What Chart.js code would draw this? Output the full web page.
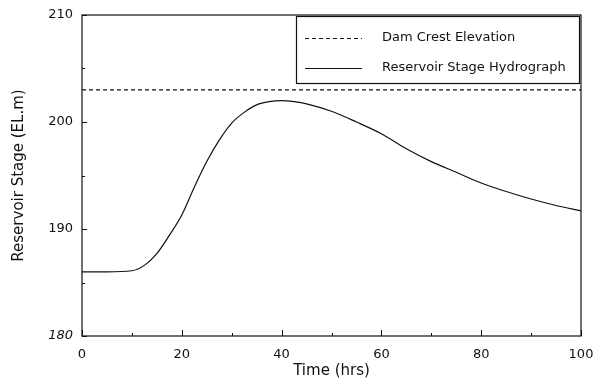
<!DOCTYPE html>
<html>
<head>
<meta charset="utf-8">
<script src="https://cdn.jsdelivr.net/npm/chart.js@4/dist/chart.umd.min.js"></script>
<style>
  html, body { margin: 0; padding: 0; background: #fff; }
  #wrap { width: 593px; height: 385px; }
</style>
</head>
<body>
<div id="wrap"><canvas id="c" width="593" height="385"></canvas></div>
<script>
// Reservoir routing result: stage vs. time
const timeHrs = [0, 5, 10, 12.5, 15, 17.5, 20, 22.5, 25, 27.5, 30, 32.5, 35, 37.5, 40, 42.5, 45, 50, 55, 60, 65, 70, 75, 80, 85, 90, 95, 100];
const stageEl = [186.0, 186.0, 186.1, 186.6, 187.7, 189.4, 191.3, 193.9, 196.3, 198.3, 199.9, 200.9, 201.6, 201.9, 202.0, 201.9, 201.7, 201.0, 200.0, 198.9, 197.5, 196.3, 195.3, 194.3, 193.5, 192.8, 192.2, 191.7];
const crestTime = [0, 100];
const crestEl = [203, 203];
const xTicks = [0, 20, 40, 60, 80, 100];
const yTicks = [180, 190, 200, 210];
const xMinor = [10, 30, 50, 70, 90];
const yMinor = [185, 195, 205];
const seriesNames = ['Dam Crest Elevation', 'Reservoir Stage Hydrograph'];

const FONT = '"DejaVu Sans", sans-serif';
const INK = '#111';

// Frame, inward tick marks and the boxed legend inside the plot
const framePlugin = {
  id: 'frame',
  afterDatasetsDraw(chart) {
    const { ctx, chartArea: a, scales } = chart;
    const xs = scales.x, ys = scales.y;
    ctx.save();
    ctx.strokeStyle = INK;
    ctx.lineWidth = 1.2;
    ctx.strokeRect(a.left, a.top, a.right - a.left, a.bottom - a.top);
    ctx.lineWidth = 1;
    ctx.beginPath();
    xTicks.forEach(v => { const p = Math.round(xs.getPixelForValue(v)) + 0.5; ctx.moveTo(p, a.bottom); ctx.lineTo(p, a.bottom - 6); });
    xMinor.forEach(v => { const p = Math.round(xs.getPixelForValue(v)) + 0.5; ctx.moveTo(p, a.bottom); ctx.lineTo(p, a.bottom - 3); });
    yTicks.forEach(v => { const p = Math.round(ys.getPixelForValue(v)) + 0.5; ctx.moveTo(a.left, p); ctx.lineTo(a.left + 5, p); });
    yMinor.forEach(v => { const p = Math.round(ys.getPixelForValue(v)) + 0.5; ctx.moveTo(a.left, p); ctx.lineTo(a.left + 3, p); });
    ctx.stroke();

    // legend box
    const bx = 296, by = a.top + 1.5, bw = a.right - 2 - bx, bh = 67;
    ctx.fillStyle = '#fff';
    ctx.fillRect(bx, by, bw, bh);
    ctx.lineWidth = 1.2;
    ctx.strokeRect(bx + 0.5, by, bw, bh);
    const rows = [38, 68];
    chart.data.datasets.forEach((ds, i) => {
      ctx.beginPath();
      ctx.setLineDash(ds.borderDash || []);
      ctx.lineWidth = ds.borderWidth;
      ctx.strokeStyle = ds.borderColor;
      ctx.moveTo(305, rows[i] + 0.5);
      ctx.lineTo(362, rows[i] + 0.5);
      ctx.stroke();
      ctx.setLineDash([]);
      ctx.fillStyle = INK;
      ctx.font = '13px ' + FONT;
      ctx.textBaseline = 'middle';
      ctx.textAlign = 'left';
      ctx.fillText(ds.label, 382, rows[i]);
    });
    ctx.restore();
  }
};

new Chart(document.getElementById('c'), {
  type: 'line',
  data: {
    datasets: [
      {
        label: seriesNames[0],
        data: crestTime.map((t, i) => ({ x: t, y: crestEl[i] })),
        borderColor: INK,
        borderWidth: 1.2,
        borderDash: [4, 3],
        pointRadius: 0,
        fill: false
      },
      {
        label: seriesNames[1],
        data: timeHrs.map((t, i) => ({ x: t, y: stageEl[i] })),
        borderColor: INK,
        borderWidth: 1.2,
        cubicInterpolationMode: 'monotone',
        pointRadius: 0,
        fill: false
      }
    ]
  },
  options: {
    responsive: false,
    animation: false,
    devicePixelRatio: 1,
    layout: { padding: { top: 15, right: 12, left: 0, bottom: 0 } },
    plugins: { legend: { display: false }, tooltip: { enabled: false } },
    scales: {
      x: {
        type: 'linear',
        min: 0, max: 100,
        afterFit: s => { s.height = 49; s.paddingLeft = 0; s.paddingRight = 0; },
        afterBuildTicks: s => { s.ticks = xTicks.map(v => ({ value: v })); },
        grid: { display: false, drawTicks: false },
        border: { display: false },
        ticks: { color: INK, font: { family: FONT, size: 13 }, padding: 11 },
        title: { display: true, text: 'Time (hrs)', color: INK, font: { family: FONT, size: 15 }, padding: { top: 0, bottom: 5 } }
      },
      y: {
        type: 'linear',
        min: 180, max: 210,
        afterFit: s => { s.width = 82; s.paddingTop = 0; s.paddingBottom = 0; },
        afterBuildTicks: s => { s.ticks = yTicks.map(v => ({ value: v })); },
        grid: { display: false, drawTicks: false },
        border: { display: false },
        ticks: {
          color: INK,
          padding: 9,
          font: ctx => ({ family: FONT, size: 13, style: ctx.tick && ctx.tick.value === 180 ? 'italic' : 'normal' })
        },
        title: { display: true, text: 'Reservoir Stage (EL.m)', color: INK, font: { family: FONT, size: 15 }, padding: { top: 10, bottom: 0 } }
      }
    }
  },
  plugins: [framePlugin]
});
</script>
</body>
</html>
